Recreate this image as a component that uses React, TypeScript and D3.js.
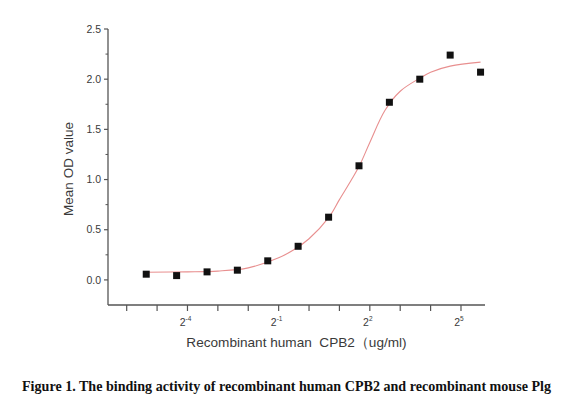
import React from 'react';
import * as d3 from 'd3';

// concentrations (ug/ml), two-fold dilution series
const concentrations = [0.0244, 0.0488, 0.0977, 0.195, 0.39, 0.78, 1.5625, 3.125, 6.25, 12.5, 25, 50];
// mean OD readings
const odValues = [0.057, 0.043, 0.08, 0.097, 0.19, 0.335, 0.625, 1.137, 1.77, 2.0, 2.24, 2.07];

// fitted curve
const fitX = [0.0244, 0.0625, 0.125, 0.25, 0.5, 0.707, 1, 1.5625, 2, 3.125, 4, 5.66, 8, 12.5, 16, 25, 50];
const fitY = [0.077, 0.08, 0.088, 0.12, 0.22, 0.3, 0.41, 0.62, 0.8, 1.13, 1.37, 1.69, 1.88, 2.01, 2.07, 2.13, 2.17];

const yTicks = [0, 0.5, 1.0, 1.5, 2.0, 2.5];
const yMinorTicks = [0.25, 0.75, 1.25, 1.75, 2.25];
const xTickExps = [-6, -5, -4, -3, -2, -1, 0, 1, 2, 3, 4, 5];
const xLabelExps = [-4, -1, 2, 5];

const title = 'Figure 1. The binding activity of recombinant human CPB2 and recombinant mouse Plg';
const xTitle = 'Recombinant human  CPB2\uFF08ug/ml)';
const yTitle = 'Mean OD value';

const W = 563;
const H = 411;
const margin = { left: 108, right: 78, top: 29, bottom: 106 };

export default function App() {
  const x = d3
    .scaleLog()
    .base(2)
    .domain([Math.pow(2, -6.615), Math.pow(2, 5.79)])
    .range([margin.left, W - margin.right]);
  const y = d3.scaleLinear().domain([-0.25, 2.5]).range([H - margin.bottom, margin.top]);

  const fitLine = d3
    .line<number>()
    .x((_, i) => x(fitX[i]))
    .y((d) => y(d))
    .curve(d3.curveCatmullRom.alpha(0.5));

  const axisColor = '#555';
  const textColor = '#3a3a3a';
  const font = 'Arial, "Liberation Sans", sans-serif';
  const x0 = margin.left;
  const yBase = H - margin.bottom;
  const size = 7;

  return (
    <div>
      <style>{'body{margin:0}'}</style>
      <svg width={W} height={H} style={{ display: 'block', background: '#fff' }}>
        {/* fitted curve */}
        <path d={fitLine(fitY) || ''} fill="none" stroke="#e88f8f" strokeWidth={1.1} />

        {/* data squares */}
        {concentrations.map((c, i) => (
          <rect
            key={i}
            x={x(c) - size / 2}
            y={y(odValues[i]) - size / 2}
            width={size}
            height={size}
            fill="#111"
          />
        ))}

        {/* y axis */}
        <line x1={x0} x2={x0} y1={y(2.5)} y2={yBase} stroke={axisColor} strokeWidth={1.3} />
        {yTicks.map((t) => (
          <g key={t}>
            <line x1={x0 - 4} x2={x0} y1={y(t)} y2={y(t)} stroke={axisColor} strokeWidth={1.2} />
            <text
              x={x0 - 7}
              y={y(t)}
              dy="0.35em"
              textAnchor="end"
              fontSize={10.5}
              fontFamily={font}
              fill={textColor}
            >
              {t.toFixed(1)}
            </text>
          </g>
        ))}
        {yMinorTicks.map((t) => (
          <line key={t} x1={x0 - 2.5} x2={x0} y1={y(t)} y2={y(t)} stroke={axisColor} strokeWidth={1} />
        ))}
        <text
          transform={`translate(73,${(y(2.5) + yBase) / 2 + 2}) rotate(-90)`}
          textAnchor="middle"
          fontSize={13.5}
          fontFamily={font}
          fill={textColor}
        >
          {yTitle}
        </text>

        {/* x axis */}
        <line x1={x0} x2={W - margin.right} y1={yBase} y2={yBase} stroke={axisColor} strokeWidth={1.3} />
        {xTickExps.map((e) => (
          <line
            key={e}
            x1={x(Math.pow(2, e))}
            x2={x(Math.pow(2, e))}
            y1={yBase}
            y2={yBase + 6}
            stroke={axisColor}
            strokeWidth={1.2}
          />
        ))}
        {xLabelExps.map((e) => (
          <text
            key={e}
            x={x(Math.pow(2, e)) - 2}
            y={yBase + 21}
            textAnchor="middle"
            fontSize={10.5}
            fontFamily={font}
            fill={textColor}
          >
            2
            <tspan dy={-5} fontSize={6.5}>
              {e}
            </tspan>
          </text>
        ))}
        <text
          x={296.5}
          y={347}
          textAnchor="middle"
          fontSize={13.6}
          fontFamily={font}
          fill={textColor}
          style={{ whiteSpace: 'pre' }}
        >
          {xTitle}
        </text>

        {/* caption */}
        <text
          x={22}
          y={391}
          textLength={529}
          lengthAdjust="spacingAndGlyphs"
          fontSize={14}
          fontWeight="bold"
          fontFamily={'"Times New Roman", "Liberation Serif", serif'}
          fill="#111"
        >
          {title}
        </text>
      </svg>
    </div>
  );
}
